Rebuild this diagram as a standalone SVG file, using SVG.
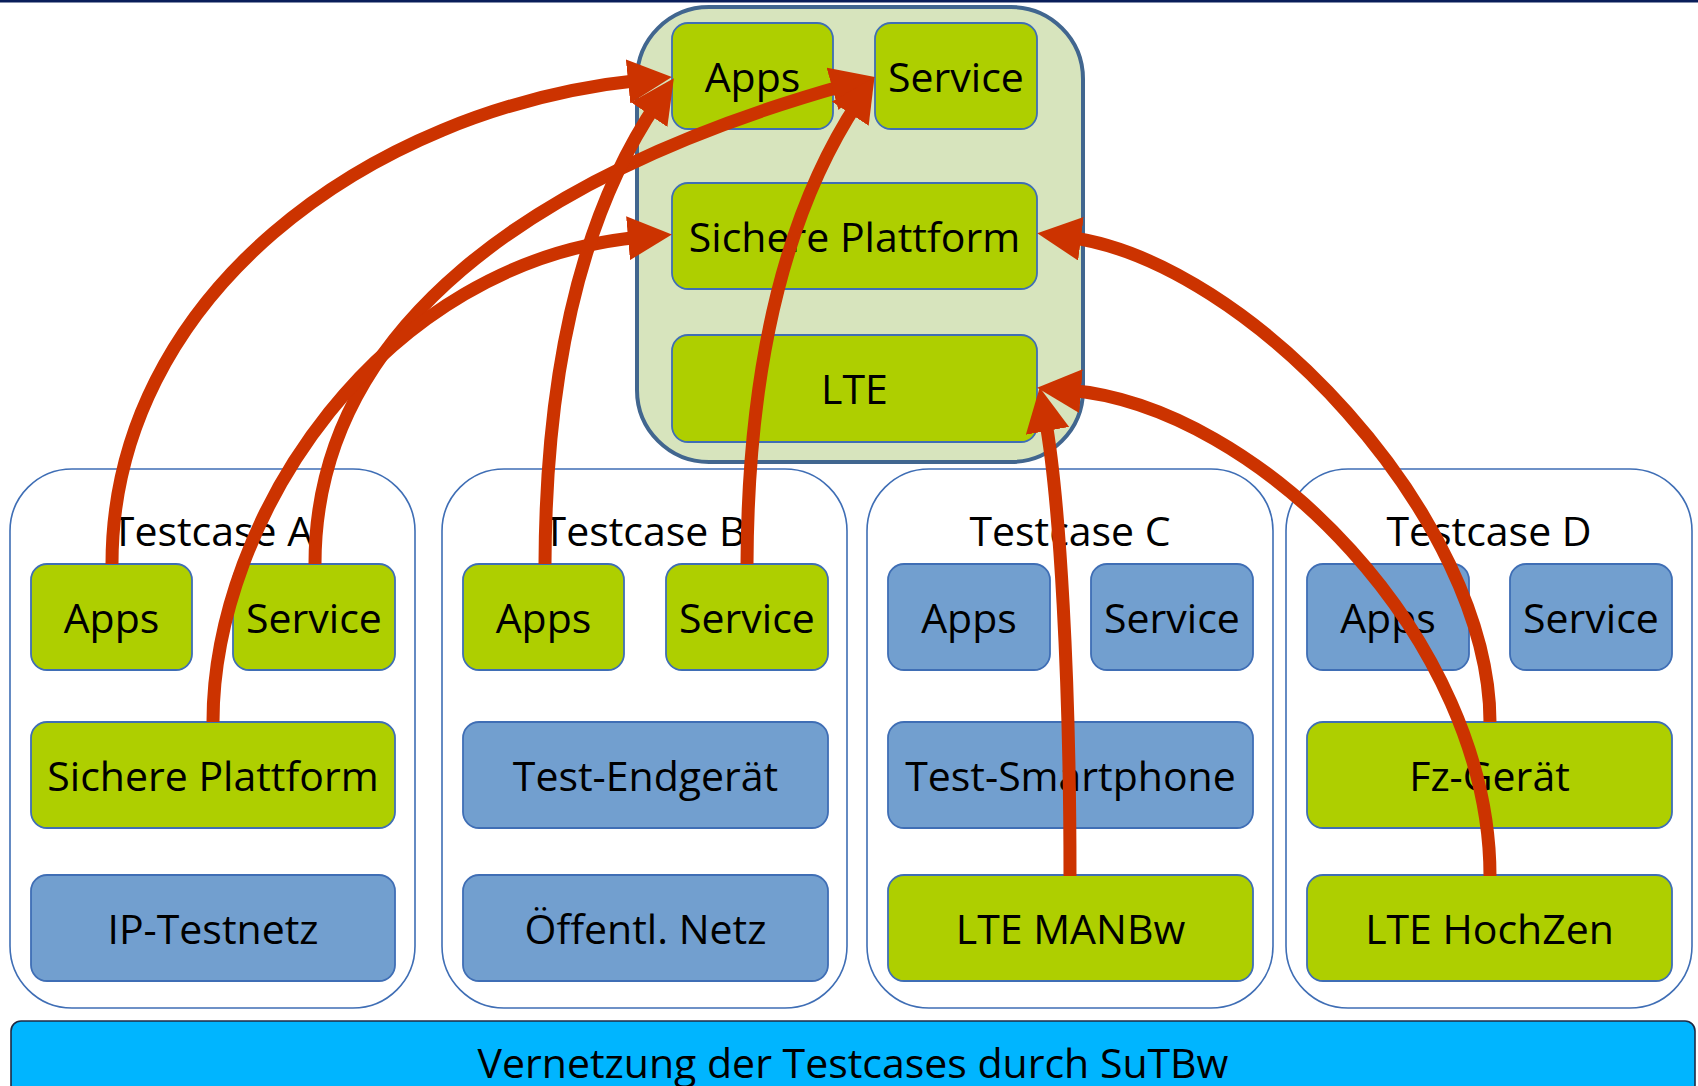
<svg xmlns="http://www.w3.org/2000/svg" width="1698" height="1086" viewBox="0 0 1698 1086">
<style>
text{font-family:"Open Sans","Liberation Sans",sans-serif;font-size:41px;fill:#000;text-anchor:middle}
.tc{fill:#fff;stroke:#3F6EB5;stroke-width:1.6}
.g{fill:#AECF00;stroke:#3F6EB5;stroke-width:1.8}
.b{fill:#729FCF;stroke:#3F6EB5;stroke-width:1.8}
.arr{fill:none;stroke:#CC3300;stroke-width:13;marker-end:url(#ah)}
</style>
<defs>
<marker id="ah" viewBox="0 0 44 44" refX="14" refY="22" markerWidth="44" markerHeight="44" markerUnits="userSpaceOnUse" orient="auto"><path d="M0,0 L44,22 L0,44 z" fill="#CC3300"/></marker>
</defs>
<rect x="0" y="0" width="1698" height="1086" fill="#fff"/>
<rect x="0" y="0" width="1698" height="2.5" fill="#0A1E5A"/>

<g id="central">
<rect x="637" y="7" width="446" height="455" rx="72" fill="#D7E4BD" stroke="#41668F" stroke-width="4"/>
<g id="c-apps"><rect class="g" x="672" y="23" width="161" height="106" rx="16"/><text x="752.5" y="92">Apps</text></g>
<g id="c-service"><rect class="g" x="875" y="23" width="162" height="106" rx="16"/><text x="956" y="92">Service</text></g>
<g id="c-sichere"><rect class="g" x="672" y="183" width="365" height="106" rx="16"/><text x="854.5" y="252">Sichere Plattform</text></g>
<g id="c-lte"><rect class="g" x="672" y="335" width="365" height="107" rx="16"/><text x="854.5" y="404">LTE</text></g>
</g>

<g id="testcase-a">
<rect class="tc" x="10" y="469" width="405" height="539" rx="62"/>
<text x="212.5" y="546">Testcase A</text>
<g id="a-apps"><rect class="g" x="31" y="564" width="161" height="106" rx="16"/><text x="111.5" y="633">Apps</text></g>
<g id="a-service"><rect class="g" x="233" y="564" width="162" height="106" rx="16"/><text x="314" y="633">Service</text></g>
<g id="a-sichere"><rect class="g" x="31" y="722" width="364" height="106" rx="16"/><text x="213" y="791">Sichere Plattform</text></g>
<g id="a-ip"><rect class="b" x="31" y="875" width="364" height="106" rx="16"/><text x="213" y="944">IP-Testnetz</text></g>
</g>

<g id="testcase-b">
<rect class="tc" x="442" y="469" width="405" height="539" rx="62"/>
<text x="644.5" y="546">Testcase B</text>
<g id="b-apps"><rect class="g" x="463" y="564" width="161" height="106" rx="16"/><text x="543.5" y="633">Apps</text></g>
<g id="b-service"><rect class="g" x="666" y="564" width="162" height="106" rx="16"/><text x="747" y="633">Service</text></g>
<g id="b-endgeraet"><rect class="b" x="463" y="722" width="365" height="106" rx="16"/><text x="645.5" y="791">Test-Endgerät</text></g>
<g id="b-netz"><rect class="b" x="463" y="875" width="365" height="106" rx="16"/><text x="645.5" y="944">Öffentl. Netz</text></g>
</g>

<g id="testcase-c">
<rect class="tc" x="867" y="469" width="406" height="539" rx="62"/>
<text x="1070" y="546">Testcase C</text>
<g id="c2-apps"><rect class="b" x="888" y="564" width="162" height="106" rx="16"/><text x="969" y="633">Apps</text></g>
<g id="c2-service"><rect class="b" x="1091" y="564" width="162" height="106" rx="16"/><text x="1172" y="633">Service</text></g>
<g id="c2-smartphone"><rect class="b" x="888" y="722" width="365" height="106" rx="16"/><text x="1070.5" y="791">Test-Smartphone</text></g>
<g id="c2-manbw"><rect class="g" x="888" y="875" width="365" height="106" rx="16"/><text x="1070.5" y="944">LTE MANBw</text></g>
</g>

<g id="testcase-d">
<rect class="tc" x="1286" y="469" width="406" height="539" rx="62"/>
<text x="1489" y="546">Testcase D</text>
<g id="d-apps"><rect class="b" x="1307" y="564" width="162" height="106" rx="16"/><text x="1388" y="633">Apps</text></g>
<g id="d-service"><rect class="b" x="1510" y="564" width="162" height="106" rx="16"/><text x="1591" y="633">Service</text></g>
<g id="d-fz"><rect class="g" x="1307" y="722" width="365" height="106" rx="16"/><text x="1489.5" y="791">Fz-Gerät</text></g>
<g id="d-hochzen"><rect class="g" x="1307" y="875" width="365" height="106" rx="16"/><text x="1489.5" y="944">LTE HochZen</text></g>
</g>

<g id="sutbw">
<rect x="11" y="1021" width="1684" height="80" rx="10" fill="#00B5FF" stroke="#1F2A44" stroke-width="1.6"/>
<text x="853" y="1078">Vernetzung der Testcases durch SuTBw</text>
</g>

<g id="connectors">
<path class="arr" d="M112,564 C112,299 365,108 642,80"/>
<path class="arr" d="M315,564 C315,330 529,174 846,85"/>
<path class="arr" d="M213,722 C213,520 380,260 642,237"/>
<path class="arr" d="M545,564 C546,330 598,190 657,103"/>
<path class="arr" d="M747,564 C748,330 800,190 858,102"/>
<path class="arr" d="M1490,722 C1490,520 1250,260 1067,237"/>
<path class="arr" d="M1490,876 C1490,640 1260,405 1067,390"/>
<path class="arr" d="M1070,876 C1070,680 1060,500 1045,417"/>
</g>
</svg>
